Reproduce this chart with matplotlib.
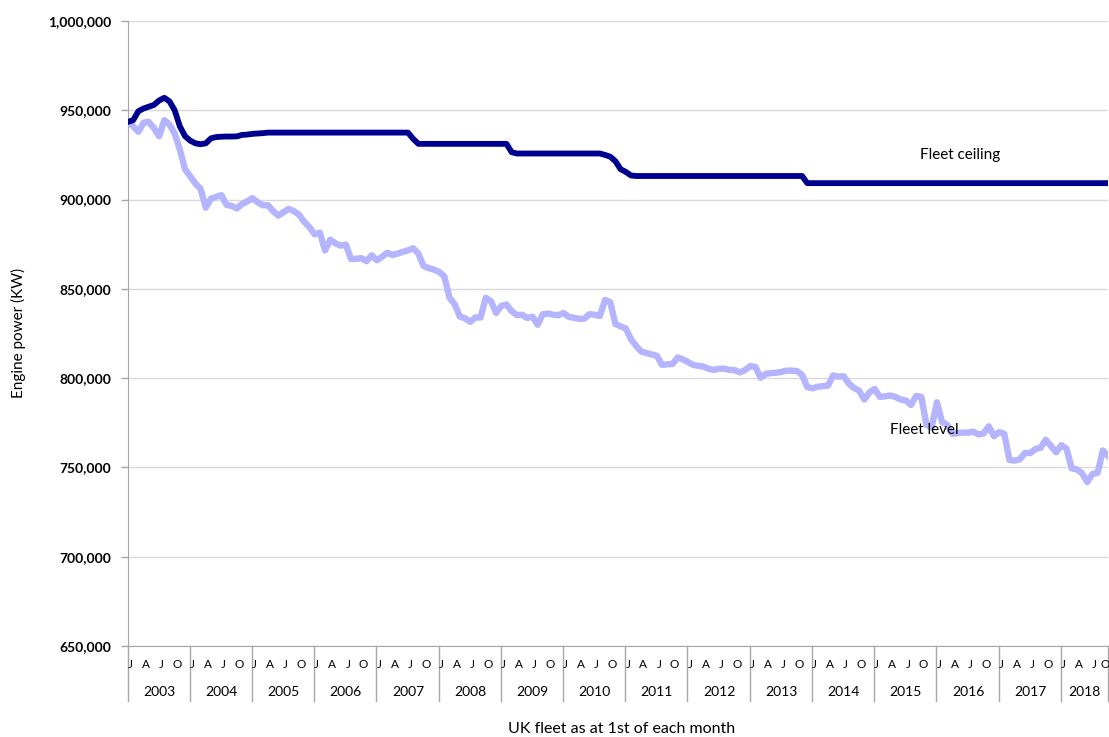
import matplotlib
matplotlib.use("Agg")
import matplotlib.pyplot as plt
from matplotlib.ticker import FuncFormatter
import matplotlib.transforms as mtransforms

plt.rcParams['font.family'] = ['Lato', 'DejaVu Sans']

years = list(range(2003, 2019))
month_letters = ["J", "A", "J", "O"]

fleet_level = [
    943600, 941000, 938000, 943000, 943500, 940000, 935500, 944500, 942000, 937000,
    928000, 917000, 913000, 909000, 906000, 895500, 900500, 901500, 902500, 897000,
    896500, 895000, 897500, 899000, 900800, 898500, 896800, 896800, 893500, 891000,
    893000, 894800, 893500, 891500, 887500, 884500, 880500, 881500, 871500, 877500,
    875500, 874200, 874800, 866800, 866800, 867200, 865500, 868800, 866000, 868000,
    870200, 869000, 869800, 870700, 871600, 872700, 869800, 862800, 861600, 860800,
    859500, 857000, 845000, 841500, 834500, 833500, 831500, 834000, 834000, 845000,
    843000, 836500, 840500, 841200, 837500, 835300, 835500, 833700, 834400, 829900,
    835800, 836200, 835500, 835200, 836500, 834300, 833800, 833200, 833300, 835800,
    835500, 834800, 843800, 842500, 830300, 829000, 827800, 821800, 818000, 814900,
    814000, 813300, 812500, 807400, 807800, 807900, 811600, 810500, 809000, 807400,
    806900, 806500, 805200, 804600, 805300, 805300, 804600, 804500, 803200, 804500,
    806800, 806300, 800200, 802400, 802800, 803000, 803500, 804200, 804200, 804000,
    801800, 795000, 794300, 795200, 795500, 795800, 801500, 800800, 801100, 797000,
    794500, 793000, 788000, 792000, 794000, 789500, 789800, 790300, 789500, 788000,
    787500, 785000, 790000, 789500, 773800, 772500, 786500, 775500, 773800, 768800,
    769200, 769500, 769500, 770000, 768500, 769000, 773000, 767500, 769800, 768800,
    754200, 753800, 754500, 758200, 758000, 760300, 761000, 765500, 762000, 758500,
    762500, 760500, 749500, 748900, 746700, 741800, 746300, 747000, 759500, 756500,
]

fleet_ceiling = (
    [943500, 944500, 949500, 951000, 952000, 953000, 955500, 957000, 955000, 950000,
     941000, 935500, 933000, 931500, 931000, 931500, 934300, 935000, 935200, 935300,
     935300, 935400, 936200, 936400, 936800, 937000, 937200]
    + [937500] * 28
    + [934000]
    + [931200] * 18
    + [926500]
    + [925800] * 17
    + [925000, 924000, 921500, 917000, 915500, 913500]
    + [913200] * 33
    + [909200] * 59
)

n = len(fleet_level)
x = list(range(n))

fig = plt.figure(figsize=(11.09, 7.37), dpi=100)
ax = fig.add_axes([128/1109, 1 - 646/737, (1108-128)/1109, (646-21)/737])

ax.plot(x, fleet_level, color='#b4b4ff', lw=4.6, solid_joinstyle='round', zorder=3)
ax.plot(x, fleet_ceiling[:n], color='#000090', lw=4.2, solid_joinstyle='round', zorder=4)

ax.set_ylim(650000, 1000000)
ax.set_xlim(0, n - 1)
ax.set_yticks(range(650000, 1000001, 50000))
ax.yaxis.set_major_formatter(FuncFormatter(lambda v, p: f"{int(v):,}"))
for lab in ax.get_yticklabels():
    lab.set_fontweight('bold')
    lab.set_fontsize(10)
ax.tick_params(axis='y', length=5, width=1, color='#a6a6a6', pad=7)
ax.set_xticks([])
ax.grid(axis='y', color='#d9d9d9', lw=1)
ax.set_axisbelow(True)
for s in ['top', 'right']:
    ax.spines[s].set_visible(False)
ax.spines['left'].set_color('#a6a6a6')
ax.spines['bottom'].set_color('#a6a6a6')

trans = mtransforms.blended_transform_factory(ax.transData, ax.transAxes)
for k, yr in enumerate(years):
    start = 12 * k
    end = min(12 * (k + 1), n - 1)
    sep = start - 0.1 if k > 0 else 0
    ax.plot([sep, sep], [0, -0.088], transform=trans, color='#a6a6a6', lw=1, clip_on=False)
    for m, letter in enumerate(month_letters):
        pos = start + 3 * m + 0.4
        if pos <= n:
            ax.text(min(pos, n - 1.6), -0.030, letter, transform=trans, ha='center', va='center', fontsize=8.5)
    ax.text((start + end) / 2, -0.0736, str(yr), transform=trans, ha='center', va='center', fontsize=10)
ax.plot([n - 1, n - 1], [0, -0.088], transform=trans, color='#a6a6a6', lw=1, clip_on=False)

fig.text(960/1109, 1 - 155/737, "Fleet ceiling", fontsize=11, ha='center', va='center')
fig.text(924/1109, 1 - 430/737, "Fleet level", fontsize=11, ha='center', va='center')

fig.text(622/1109, 1 - 729/737, "UK fleet as at 1st of each month", fontsize=11.5, ha='center', va='center')
fig.text(18/1109, 1 - 333/737, "Engine power (KW)", fontsize=11, ha='center', va='center', rotation=90)

fig.savefig("out.png", dpi=100)
